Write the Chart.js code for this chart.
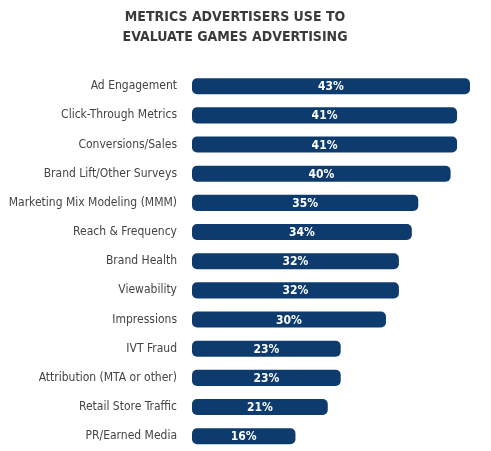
<!DOCTYPE html>
<html><head><meta charset="utf-8">
<script src="https://cdn.jsdelivr.net/npm/chart.js@4/dist/chart.umd.min.js"></script>
<style>html,body{margin:0;padding:0;background:#fff;overflow:hidden;height:451px}#wrap{width:491px;height:465px;position:relative}</style>
</head><body><div id="wrap"><canvas id="c"></canvas></div>
<script>
const categories = ["Ad Engagement","Click-Through Metrics","Conversions/Sales","Brand Lift/Other Surveys","Marketing Mix Modeling (MMM)","Reach & Frequency","Brand Health","Viewability","Impressions","IVT Fraud","Attribution (MTA or other)","Retail Store Traffic","PR/Earned Media"];
const values = [43,41,41,40,35,34,32,32,30,23,23,21,16];
const titleLines = ["METRICS ADVERTISERS USE TO","EVALUATE GAMES ADVERTISING"];
const FONT = "'DejaVu Sans Condensed', 'Roboto', sans-serif";
const barColor = '#0d3b6e';

const valueLabels = {
  id:'valueLabels',
  afterDatasetsDraw(chart){
    const ctx = chart.ctx;
    const meta = chart.getDatasetMeta(0);
    ctx.save();
    ctx.fillStyle = '#fff';
    ctx.font = "bold 12px " + FONT;
    ctx.textAlign = 'center';
    ctx.textBaseline = 'middle';
    meta.data.forEach((bar,i)=>{
      ctx.fillText(values[i] + '%', (bar.base + bar.x)/2, bar.y + 1);
    });
    ctx.restore();
  }
};

new Chart(document.getElementById('c'), {
  type:'bar',
  data:{labels:categories, datasets:[{data:values, backgroundColor:barColor, borderRadius:5, borderSkipped:false, barPercentage:0.55, categoryPercentage:1}]},
  options:{
    indexAxis:'y', responsive:true, maintainAspectRatio:false, animation:false,
    layout:{autoPadding:false, padding:{left:0,right:21,top:7,bottom:0}},
    plugins:{
      legend:{display:false}, tooltip:{enabled:false},
      title:{display:true, text:titleLines, color:'#3a3a3a', font:{family:FONT, size:14, weight:'bold', lineHeight:1.45}, padding:{top:0,bottom:24}}
    },
    scales:{
      x:{display:false, min:0, max:43},
      y:{grid:{display:false}, border:{display:false},
         ticks:{color:'#444', font:{family:FONT, size:12}, padding:7},
         afterFit(s){ s.width = 192; }}
    }
  },
  plugins:[valueLabels]
});
</script></body></html>
